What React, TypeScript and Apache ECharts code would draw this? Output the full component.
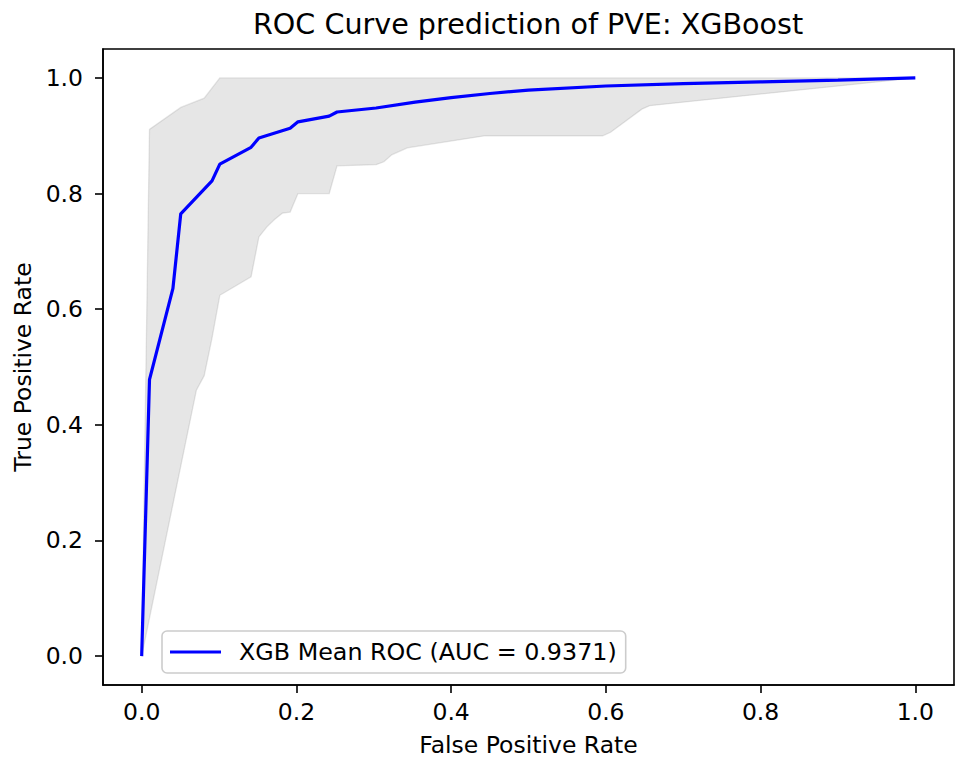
import React, { useEffect, useRef } from "react";
import * as echarts from "echarts";

const TITLE = "ROC Curve prediction of PVE: XGBoost";
const X_NAME = "False Positive Rate";
const Y_NAME = "True Positive Rate";
const SERIES_NAME = "XGB Mean ROC (AUC = 0.9371)";

const TICKS = [0, 0.2, 0.4, 0.6, 0.8, 1.0];

// Mean ROC curve
const meanFpr = [0, 0.0101, 0.0404, 0.0505, 0.0909, 0.101, 0.1414, 0.1515, 0.1919, 0.202, 0.2424, 0.2525, 0.303, 0.3535, 0.4, 0.45, 0.5, 0.6, 0.7, 0.8, 0.9, 1.0];
const meanTpr = [0, 0.478, 0.636, 0.765, 0.822, 0.851, 0.88, 0.896, 0.913, 0.924, 0.934, 0.941, 0.948, 0.958, 0.966, 0.973, 0.979, 0.986, 0.990, 0.993, 0.996, 1.0];

// Upper boundary of the ±1 std band
const upperFpr = [0, 0.0101, 0.0505, 0.0808, 0.101, 1.0];
const upperTpr = [0, 0.911, 0.949, 0.965, 1.0, 1.0];

// Lower boundary of the ±1 std band
const lowerFpr = [0, 0.0707, 0.0808, 0.0909, 0.101, 0.1414, 0.1515, 0.1616, 0.1717, 0.1818, 0.1919, 0.202, 0.2424, 0.2525, 0.303, 0.3131, 0.3232, 0.3434, 0.4444, 0.596, 0.6061, 0.6465, 0.6566, 1.0];
const lowerTpr = [0, 0.46, 0.485, 0.55, 0.624, 0.656, 0.725, 0.742, 0.755, 0.766, 0.768, 0.8, 0.8, 0.848, 0.85, 0.855, 0.867, 0.879, 0.9, 0.9, 0.906, 0.946, 0.952, 1.0];

const FONT = "DejaVu Sans";

export default function App() {
  const ref = useRef<HTMLDivElement>(null);

  useEffect(() => {
    if (!ref.current) return;
    const chart = echarts.init(ref.current, null, { renderer: "svg" });

    const meanData = meanFpr.map((x, i) => [x, meanTpr[i]]);
    const upperPts = upperFpr.map((x, i) => [x, upperTpr[i]]);
    const lowerPts = lowerFpr.map((x, i) => [x, lowerTpr[i]]);
    const bandPolygon = upperPts.concat(lowerPts.slice().reverse());

    const axisCommon = {
      type: "value",
      min: -0.05,
      max: 1.05,
      nameLocation: "middle",
      nameTextStyle: { fontFamily: FONT, fontSize: 23.5, color: "#000" },
      axisLine: { show: true, onZero: false, lineStyle: { color: "#000", width: 1.6 } },
      axisTick: {
        show: true,
        inside: false,
        length: 8,
        customValues: TICKS,
        lineStyle: { color: "#000", width: 1.6 },
      },
      splitLine: { show: false },
    };

    chart.setOption({
      animation: false,
      backgroundColor: "#ffffff",
      title: {
        text: TITLE,
        left: 253,
        top: 9,
        padding: 0,
        textStyle: { fontFamily: FONT, fontSize: 28.6, fontWeight: "normal", color: "#000" },
      },
      grid: {
        left: 103,
        right: 2,
        top: 49,
        bottom: 75,
        show: true,
        borderColor: "#000",
        borderWidth: 1.6,
        backgroundColor: "transparent",
        outerBoundsMode: "none",
      },
      legend: {
        left: 162,
        top: 631,
        orient: "horizontal",
        padding: [9, 9, 9, 8],
        backgroundColor: "rgba(255,255,255,0.8)",
        borderColor: "#cccccc",
        borderWidth: 1.6,
        borderRadius: 5,
        itemWidth: 51,
        itemHeight: 3,
        textStyle: { fontFamily: FONT, fontSize: 23.8, color: "#000", padding: [0, 0, 0, 13] },
        data: [{ name: SERIES_NAME, icon: "rect" }],
      },
      xAxis: {
        ...axisCommon,
        name: X_NAME,
        nameGap: 48,
        axisLabel: {
          show: true,
          customValues: TICKS,
          margin: 15,
          fontFamily: FONT,
          fontSize: 23.5,
          color: "#000",
          formatter: (v: number) => v.toFixed(1),
        },
      },
      yAxis: {
        ...axisCommon,
        name: Y_NAME,
        nameGap: 66,
        axisLabel: {
          show: true,
          customValues: TICKS,
          margin: 20,
          fontFamily: FONT,
          fontSize: 23.5,
          color: "#000",
          formatter: (v: number) => v.toFixed(1),
        },
      },
      series: [
        {
          type: "custom",
          name: "band",
          silent: true,
          clip: true,
          z: 1,
          data: [[0, 0]],
          renderItem: (_params: any, api: any) => {
            const pts = bandPolygon.map((p) => api.coord(p));
            return {
              type: "polygon",
              shape: { points: pts },
              style: {
                fill: "rgba(128,128,128,0.2)",
                stroke: "rgba(128,128,128,0.2)",
                lineWidth: 1.3,
              },
            };
          },
        },
        {
          type: "line",
          name: SERIES_NAME,
          data: meanData,
          showSymbol: false,
          symbol: "none",
          z: 3,
          itemStyle: { color: "#0000ff" },
          lineStyle: { color: "#0000ff", width: 3.2 },
        },
      ],
    });

    return () => {
      chart.dispose();
    };
  }, []);

  return (
    <div
      ref={ref}
      style={{ position: "fixed", left: 0, top: 0, width: 956, height: 760, background: "#fff" }}
    />
  );
}
